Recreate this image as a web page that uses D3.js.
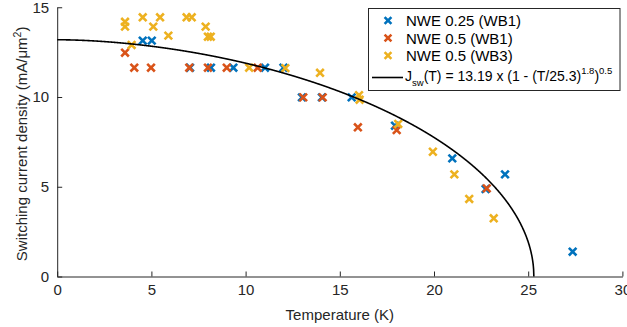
<!DOCTYPE html>
<html>
<head>
<meta charset="utf-8">
<script src="https://cdn.jsdelivr.net/npm/d3@7"></script>
<style>
  html, body { margin: 0; padding: 0; background: #fff; }
  svg { display: block; font-family: "Liberation Sans", Arial, Helvetica, sans-serif; }
</style>
</head>
<body>
<svg id="chart" width="627" height="327"></svg>
<script>
// Measured switching current density vs. temperature
const blueT = [4.54, 5.02, 7.05, 8.16, 9.35, 11.03, 12.01, 12.99, 14.05, 15.63, 17.93, 20.97, 22.74, 23.77, 27.36];
const blueJ = [13.14, 13.14, 11.63, 11.63, 11.63, 11.63, 11.63, 9.98, 9.98, 9.98, 8.4, 6.58, 4.87, 5.69, 1.38];

const orangeT = [3.6, 4.09, 4.98, 7.01, 8.0, 9.0, 10.64, 13.06, 14.09, 15.96, 18.02, 22.8];
const orangeJ = [12.47, 11.63, 11.63, 11.63, 11.63, 11.63, 11.63, 9.98, 9.98, 8.31, 8.16, 4.91];

const yellowT = [3.6, 3.6, 3.95, 4.54, 5.1, 5.46, 5.9, 6.87, 7.14, 7.88, 8.0, 8.15, 10.19, 12.11, 13.95, 16.02, 16.05, 18.1, 19.94, 21.08, 21.87, 23.17];
const yellowJ = [14.19, 13.92, 12.9, 14.44, 13.92, 14.44, 13.42, 14.44, 14.44, 13.92, 13.36, 13.36, 11.63, 11.61, 11.35, 10.1, 9.85, 8.5, 6.95, 5.69, 4.32, 3.24];

const seriesNames = ["NWE 0.25 (WB1)", "NWE 0.5 (WB1)", "NWE 0.5 (WB3)"];
const seriesColors = ["#0072BD", "#D95319", "#EDB120"];

// Fit parameters: Jsw(T) = J0 * (1 - (T/Tc)^a)^b
const J0 = 13.19, Tc = 25.3, fitA = 1.8, fitB = 0.5;

const xTicks = [0, 5, 10, 15, 20, 25, 30];
const yTicks = [0, 5, 10, 15];

const svg = d3.select("#chart");
const axisColor = "#262626";
const fs = "15px", fsSmall = "10.5px";

const x = d3.scaleLinear().domain([0, 30]).range([57.2, 622.4]);
const y = d3.scaleLinear().domain([0, 15]).range([276.5, 7.25]);

// Axes (inward ticks, no box)
const xAxis = svg.append("g").attr("transform", `translate(0,${y(0)})`)
  .call(d3.axisBottom(x).tickValues(xTicks).tickSizeInner(-5).tickSizeOuter(0).tickPadding(8));
const yAxis = svg.append("g").attr("transform", `translate(${x(0)},0)`)
  .call(d3.axisLeft(y).tickValues(yTicks).tickSizeInner(-5).tickSizeOuter(0).tickPadding(8));
[xAxis, yAxis].forEach(g => {
  g.select(".domain").attr("stroke", axisColor).attr("stroke-width", 1);
  g.selectAll(".tick line").attr("stroke", axisColor).attr("stroke-width", 1);
  g.selectAll(".tick text").attr("fill", axisColor).style("font-size", fs)
    .style("font-family", '"Liberation Sans", Arial, sans-serif');
});

// Axis titles
svg.append("text").attr("x", x(15)).attr("y", 320).attr("text-anchor", "middle")
  .attr("fill", axisColor).style("font-size", fs).text("Temperature (K)");

const yl = svg.append("text").attr("transform", `translate(27,${(y(0) + y(15)) / 2 + 2}) rotate(-90)`)
  .attr("text-anchor", "middle").attr("fill", axisColor).style("font-size", fs);
yl.append("tspan").text("Switching current density (mA/\u03bcm");
yl.append("tspan").attr("dy", -6).style("font-size", fsSmall).text("2");
yl.append("tspan").attr("dy", 6).text(")");

// Cross markers
function crosses(T, J, color) {
  const g = svg.append("g");
  const s = 3.8;
  T.forEach((t, i) => {
    const cx = x(t), cy = y(J[i]);
    g.append("path")
      .attr("d", `M${cx - s},${cy - s}L${cx + s},${cy + s}M${cx - s},${cy + s}L${cx + s},${cy - s}`)
      .attr("stroke", color).attr("stroke-width", 2.6).attr("fill", "none");
  });
}
crosses(blueT, blueJ, seriesColors[0]);
crosses(orangeT, orangeJ, seriesColors[1]);
crosses(yellowT, yellowJ, seriesColors[2]);

// Fit curve
const fitPts = d3.range(0, 2001).map(i => {
  const t = Tc * i / 2000;
  return [t, J0 * Math.pow(Math.max(0, 1 - Math.pow(t / Tc, fitA)), fitB)];
});
svg.append("path").datum(fitPts)
  .attr("d", d3.line().x(d => x(d[0])).y(d => y(d[1])))
  .attr("stroke", "#000").attr("stroke-width", 1.6).attr("fill", "none");

// Legend
const lg = svg.append("g");
lg.append("rect").attr("x", 368.5).attr("y", 8.5).attr("width", 251.5).attr("height", 82)
  .attr("fill", "#fff").attr("stroke", axisColor).attr("stroke-width", 1);
const rowY = [20.5, 38, 55.5];
seriesNames.forEach((name, i) => {
  const cx = 388, cy = rowY[i], s = 3.4;
  lg.append("path")
    .attr("d", `M${cx - s},${cy - s}L${cx + s},${cy + s}M${cx - s},${cy + s}L${cx + s},${cy - s}`)
    .attr("stroke", seriesColors[i]).attr("stroke-width", 2.6);
  lg.append("text").attr("x", 406).attr("y", cy + 5.5).attr("fill", "#000")
    .style("font-size", fs).text(name);
});
lg.append("line").attr("x1", 372).attr("x2", 403).attr("y1", 77.5).attr("y2", 77.5)
  .attr("stroke", "#000").attr("stroke-width", 1.6);
const fsFit = "14px", fsFitSmall = "9.5px";
const ft = lg.append("text").attr("x", 405).attr("y", 80.5).attr("fill", "#000").style("font-size", fsFit);
ft.append("tspan").text("J");
ft.append("tspan").attr("dy", 5).style("font-size", fsFitSmall).text("sw");
ft.append("tspan").attr("dy", -5).text("(T) = 13.19 x (1 - (T/25.3)");
ft.append("tspan").attr("dy", -7).style("font-size", fsFitSmall).text("1.8");
ft.append("tspan").attr("dy", 7).text(")");
ft.append("tspan").attr("dy", -7).style("font-size", fsFitSmall).text("0.5");
</script>
</body>
</html>
